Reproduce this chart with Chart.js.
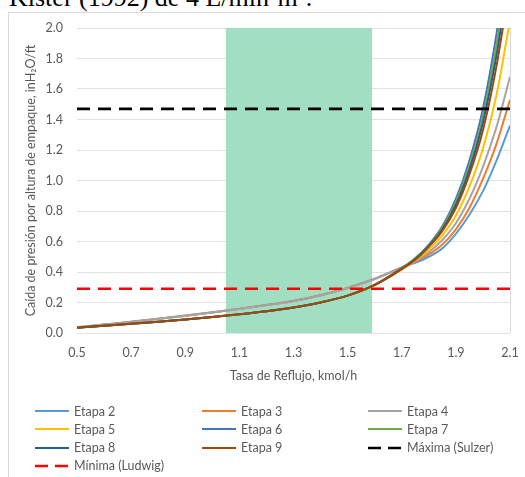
<!DOCTYPE html>
<html>
<head>
<meta charset="utf-8">
<script src="https://cdn.jsdelivr.net/npm/chart.js@4.4.0/dist/chart.umd.min.js"></script>
<style>
  html, body { margin: 0; padding: 0; background: #fff; width: 525px; height: 477px; overflow: hidden; }
  body { position: relative; font-family: Lato, "Open Sans", sans-serif; }
  #doc { position: absolute; left: 9px; top: -15px; font-family: "Liberation Serif", "Times New Roman", serif;
         font-size: 26px; line-height: 1; color: #000; white-space: nowrap; }
  #frame { position: absolute; left: 8px; top: 12px; width: 540px; height: 480px; border: 1px solid #d9d9d9; box-sizing: border-box; }
  #c { position: absolute; left: 0; top: 0; }
  .lg { position: absolute; height: 16px; display: flex; align-items: center; font-size: 12.5px; color: #595959; white-space: nowrap; }
  .lg svg { margin-right: 5px; }
</style>
</head>
<body>
<div id="doc">Kister (1992) de 4 L/min·m².</div>
<div id="frame"></div>
<canvas id="c" width="525" height="477"></canvas>
<div id="legend"></div>
<script>
// Reflux rate (kmol/h) where the curves were read
const reflujo = [0.5, 0.6, 0.7, 0.8, 0.9, 1.0, 1.1, 1.2, 1.3, 1.4, 1.5, 1.6, 1.7,
                 1.75, 1.8, 1.85, 1.9, 1.95, 2.0, 2.05, 2.1];

// Pressure drop per packing height, inH2O/ft
const etapa2 = [0.037, 0.055, 0.073, 0.093, 0.114, 0.136, 0.159, 0.184, 0.211, 0.248, 0.296, 0.356, 0.430,
                0.46, 0.50, 0.555, 0.65, 0.775, 0.93, 1.13, 1.36];
const etapa3 = [0.037, 0.055, 0.073, 0.093, 0.113, 0.135, 0.158, 0.183, 0.210, 0.247, 0.295, 0.355, 0.430,
                0.47, 0.515, 0.58, 0.68, 0.82, 1.01, 1.24, 1.53];
const etapa4 = [0.037, 0.055, 0.072, 0.092, 0.112, 0.134, 0.157, 0.182, 0.209, 0.246, 0.294, 0.354, 0.430,
                0.475, 0.53, 0.61, 0.72, 0.88, 1.09, 1.35, 1.68];
const etapa5 = [0.035, 0.047, 0.060, 0.074, 0.089, 0.105, 0.123, 0.143, 0.167, 0.200, 0.245, 0.313, 0.415,
                0.475, 0.545, 0.64, 0.77, 0.96, 1.21, 1.56, 2.05];
const etapa6 = [0.035, 0.047, 0.060, 0.074, 0.089, 0.105, 0.123, 0.143, 0.167, 0.200, 0.245, 0.315, 0.425,
                0.49, 0.58, 0.70, 0.88, 1.13, 1.47, 1.96, 2.60];
const etapa7 = [0.035, 0.047, 0.060, 0.074, 0.089, 0.105, 0.123, 0.143, 0.167, 0.200, 0.245, 0.315, 0.425,
                0.49, 0.575, 0.69, 0.86, 1.10, 1.42, 1.89, 2.50];
const etapa8 = [0.035, 0.047, 0.060, 0.074, 0.089, 0.105, 0.123, 0.143, 0.167, 0.200, 0.245, 0.315, 0.420,
                0.485, 0.57, 0.68, 0.84, 1.07, 1.38, 1.82, 2.40];
const etapa9 = [0.035, 0.047, 0.060, 0.074, 0.089, 0.105, 0.123, 0.143, 0.167, 0.200, 0.245, 0.315, 0.420,
                0.48, 0.565, 0.67, 0.82, 1.04, 1.33, 1.75, 2.30];

// Limits (horizontal lines)
const limiteX = [0.5, 2.1];
const maximaSulzer = [1.47, 1.47];
const minimaLudwig = [0.29, 0.29];

// Shaded operating range of reflux rate
const rangoReflujo = [1.05, 1.59];

const nombres = ['Etapa 2', 'Etapa 3', 'Etapa 4', 'Etapa 5', 'Etapa 6', 'Etapa 7', 'Etapa 8', 'Etapa 9',
                 'Máxima (Sulzer)', 'Mínima (Ludwig)'];
const colores = ['#5B9BD5', '#ED7D31', '#A5A5A5', '#FFC000', '#4472C4', '#70AD47', '#255E91', '#9E480E',
                 '#000000', '#FF0000'];
const series = [etapa2, etapa3, etapa4, etapa5, etapa6, etapa7, etapa8, etapa9];

const textColor = '#595959';
const font = { family: 'Lato, "Open Sans", sans-serif', size: 12.5 };

const datasets = nombres.map(function(nombre, i) {
    const esLimite = i >= series.length;
    const ys = esLimite ? (i === 8 ? maximaSulzer : minimaLudwig) : series[i];
    const xs = esLimite ? limiteX : reflujo;
    return {
        label: nombre,
        data: xs.map(function(x, j) { return { x: x, y: ys[j] }; }),
        borderColor: colores[i],
        backgroundColor: colores[i],
        borderWidth: esLimite ? 2.6 : 2,
        borderDash: esLimite ? [13, 8] : [],
        cubicInterpolationMode: 'monotone',
        pointRadius: 0,
        fill: false,
        order: nombres.length - i
    };
});

// green band behind the curves
const bandPlugin = {
    id: 'band',
    beforeDatasetsDraw: function(chart) {
        const ctx = chart.ctx, area = chart.chartArea, x = chart.scales.x;
        const x1 = x.getPixelForValue(rangoReflujo[0]);
        const x2 = x.getPixelForValue(rangoReflujo[1]);
        ctx.save();
        ctx.fillStyle = '#a0dfc2';
        ctx.fillRect(x1, area.top, x2 - x1, area.bottom - area.top);
        ctx.restore();
    }
};

new Chart(document.getElementById('c'), {
    type: 'line',
    data: { datasets: datasets },
    plugins: [bandPlugin],
    options: {
        responsive: false,
        animation: false,
        devicePixelRatio: 1,
        layout: { padding: { left: 19, right: 15, top: 28, bottom: 90 } },
        plugins: { legend: { display: false }, tooltip: { enabled: false } },
        scales: {
            x: {
                type: 'linear', min: 0.5, max: 2.1,
                ticks: { stepSize: 0.2, padding: 12, color: textColor, font: font,
                         maxRotation: 0, callback: function(v) { return v.toFixed(1); } },
                grid: { drawTicks: false,
                        color: function(c) { return c.tick && c.tick.value > 2.09 ? '#d9d9d9' : 'rgba(0,0,0,0)'; } },
                border: { display: false },
                title: { display: true, text: 'Tasa de Reflujo, kmol/h', color: textColor, font: font,
                         padding: { top: 4, bottom: 4 } },
                afterFit: function(s) { s.height = 54; s.paddingRight = 0; s.paddingLeft = 0; }
            },
            y: {
                min: 0, max: 2,
                ticks: { stepSize: 0.2, padding: 14, color: textColor, font: font,
                         callback: function(v) { return v.toFixed(1); } },
                grid: { color: '#e2e2e2', drawTicks: false },
                border: { display: false },
                title: { display: true, text: 'Caída de presión por altura de empaque, inH₂O/ft',
                         color: textColor, font: font, padding: { top: 4, bottom: 4 } },
                afterFit: function(s) { s.width = 58; }
            }
        }
    }
});

// legend in three columns
const legend = document.getElementById('legend');
const colX = [35, 202, 368];
nombres.forEach(function(nombre, i) {
    const item = document.createElement('div');
    item.className = 'lg';
    item.style.left = colX[i % 3] + 'px';
    item.style.top = (403 + Math.floor(i / 3) * 18.3) + 'px';
    const dash = i >= series.length ? ' stroke-dasharray="13 7"' : '';
    item.innerHTML = '<svg width="34" height="4"><line x1="0" y1="2" x2="34" y2="2" stroke="' + colores[i] +
        '" stroke-width="' + (i >= series.length ? 2.6 : 2.2) + '"' + dash + '/></svg>' + nombre;
    legend.appendChild(item);
});
</script>
</body>
</html>
